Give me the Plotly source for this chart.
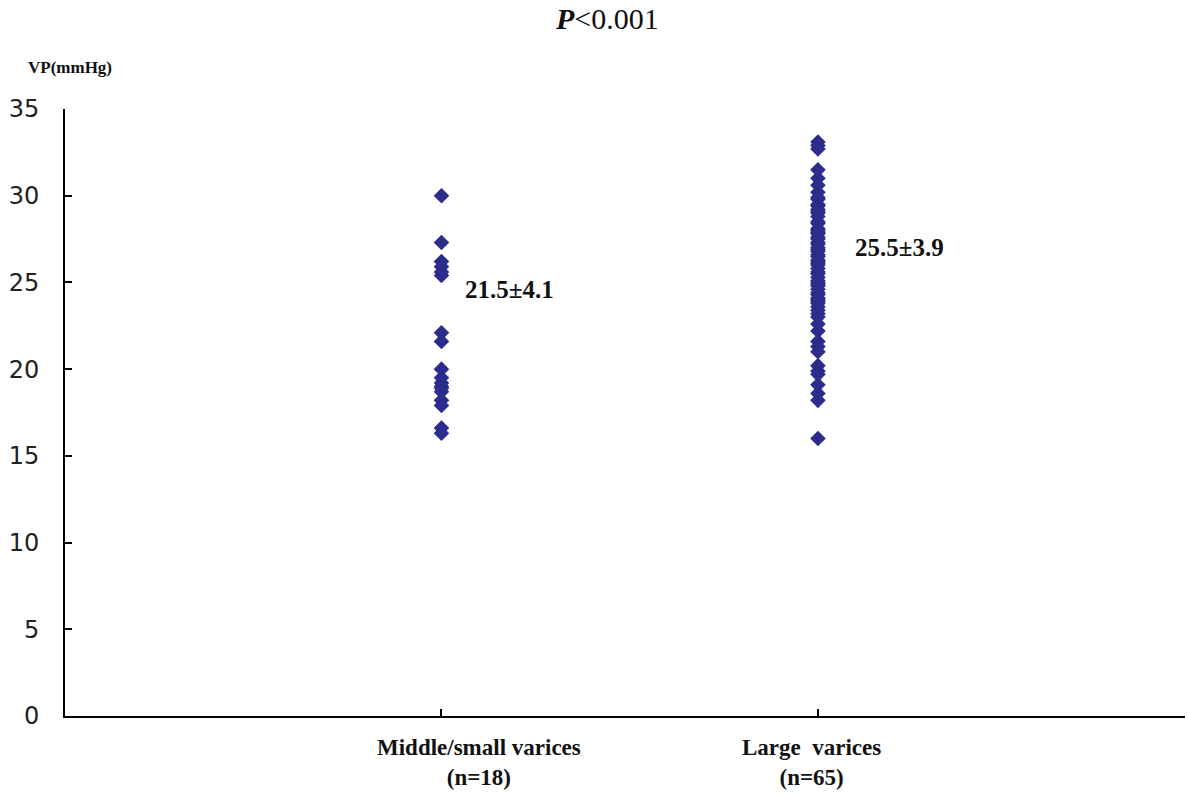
import plotly.graph_objects as go

categories = ["Middle/small varices<br>(n=18)", "Large  varices<br>(n=65)"]
cat_pos = [1, 2]

group1_values = [30.0, 27.3, 26.2, 25.9, 25.6, 25.4, 22.1, 21.6, 20.0, 19.5,
                 19.2, 19.0, 18.9, 18.7, 18.2, 17.9, 16.6, 16.3]

group2_values = [33.1, 32.9, 32.7, 31.5, 31.0, 30.6, 30.2,
                 29.9, 29.8, 29.5, 29.4, 29.1, 29.0, 28.8, 28.5, 28.4, 28.1,
                 27.9, 27.8, 27.5, 27.3, 27.2, 26.9, 26.8, 26.6, 26.5, 26.3,
                 26.1, 26.0, 25.8, 25.6, 25.5, 25.3, 25.1, 24.9, 24.8, 24.6,
                 24.4, 24.3, 24.1, 23.9, 23.8, 23.6, 23.4, 23.2, 23.0,
                 27.0, 28.0, 29.2, 26.2, 25.0, 24.0, 27.6,
                 22.6, 22.2, 21.6, 21.3, 21.0, 20.2, 19.9, 19.7, 19.1, 18.6, 18.2, 16.0]

group_labels = ["21.5±4.1", "25.5±3.9"]
label_y = [24.6, 27.0]

y_ticks = [0, 5, 10, 15, 20, 25, 30, 35]

marker_color = "#2B2C8C"
label_offsets = [0.056, 0.093]
cat_text_offsets = [0.1, -0.016]

fig = go.Figure()
for pos, vals in zip(cat_pos, [group1_values, group2_values]):
    fig.add_trace(go.Scatter(
        x=[pos] * len(vals), y=vals, mode="markers",
        marker=dict(symbol="diamond", size=12, color=marker_color, line=dict(width=0)),
        showlegend=False, cliponaxis=False,
    ))

serif = "Liberation Serif, Times New Roman, serif"

for pos, off, txt, yv in zip(cat_pos, label_offsets, group_labels, label_y):
    fig.add_annotation(x=pos + off, y=yv, xref="x", yref="y", text="<b>" + txt + "</b>",
                       showarrow=False, xanchor="left", yanchor="middle",
                       font=dict(family=serif, size=25, color="#111111"))

for pos, off, txt in zip(cat_pos, cat_text_offsets, categories):
    fig.add_annotation(x=pos + off, y=-0.028, xref="x", yref="paper", text="<b>" + txt + "</b>",
                       showarrow=False, xanchor="center", yanchor="top",
                       font=dict(family=serif, size=23, color="#111111"))

fig.add_annotation(x=0.484, y=1 + 109 / 607, xref="paper", yref="paper",
                   text="<b><i>P</i></b>&lt;0.001", showarrow=False,
                   xanchor="center", yanchor="top",
                   font=dict(family=serif, size=30, color="#111111"))

fig.add_annotation(x=0.0045, y=1.068, xref="paper", yref="paper",
                   text="<b>VP(mmHg)</b>", showarrow=False,
                   xanchor="center", yanchor="middle",
                   font=dict(family=serif, size=17, color="#111111"))

fig.update_layout(
    width=1188, height=795,
    margin=dict(l=65, r=3, t=109, b=79),
    paper_bgcolor="white", plot_bgcolor="white",
    xaxis=dict(range=[0, 2.975], tickvals=cat_pos, showticklabels=False,
               ticks="inside", ticklen=7, tickwidth=1.5, tickcolor="black",
               showline=True, linecolor="black", linewidth=2,
               showgrid=False, zeroline=False),
    yaxis=dict(range=[0, 35], tickvals=y_ticks,
               ticks="inside", ticklen=7, tickwidth=1.5, tickcolor="black",
               showline=True, linecolor="black", linewidth=2,
               showgrid=False, zeroline=False, ticklabelstandoff=19,
               tickfont=dict(family="DejaVu Sans, Arial, sans-serif", size=24, color="#222222")),
)

fig.write_html("out.html", config={"displayModeBar": False},
               post_script="document.body.style.margin='0';document.body.style.overflow='hidden';")
